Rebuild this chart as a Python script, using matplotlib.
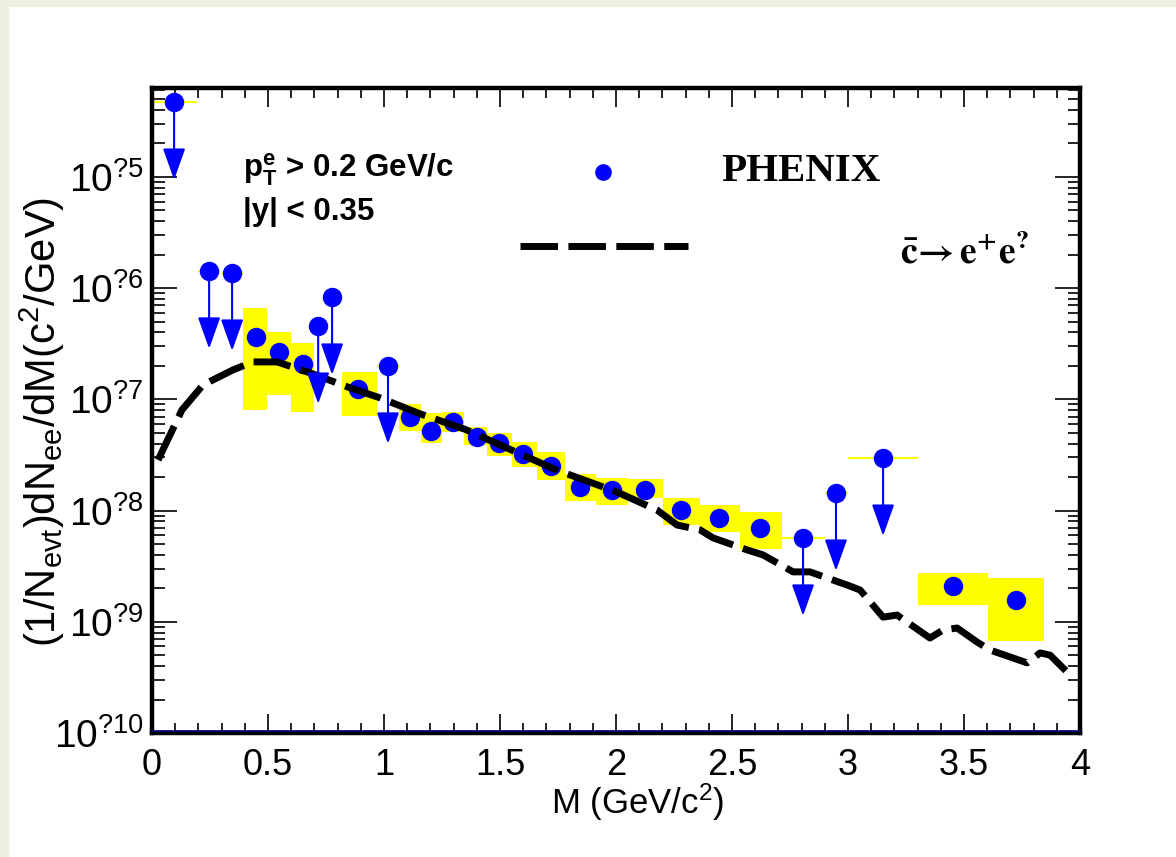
import matplotlib
matplotlib.use('Agg')
import matplotlib.pyplot as plt
from matplotlib.patches import Rectangle, FancyArrowPatch
from matplotlib.ticker import FuncFormatter, LogLocator, MultipleLocator, NullFormatter
import numpy as np

plt.rcParams['font.family'] = ['Liberation Sans', 'DejaVu Sans']
plt.rcParams['mathtext.fontset'] = 'custom'
plt.rcParams['mathtext.rm'] = 'Liberation Sans'
plt.rcParams['mathtext.it'] = 'Liberation Sans:italic'
plt.rcParams['mathtext.bf'] = 'Liberation Sans:bold'

# measured points with systematic boxes
mass = [0.448, 0.547, 0.651, 0.888, 1.112, 1.203, 1.297, 1.401, 1.496, 1.599,
        1.720, 1.845, 1.983, 2.125, 2.280, 2.444, 2.621, 3.453, 3.724]
yield_ee = [3.64e-7, 2.67e-7, 2.08e-7, 1.24e-7, 6.95e-8, 5.20e-8, 6.26e-8, 4.59e-8,
            4.06e-8, 3.23e-8, 2.52e-8, 1.63e-8, 1.53e-8, 1.53e-8, 1.01e-8, 8.57e-9,
            6.98e-9, 2.10e-9, 1.57e-9]
sys_lo = [8.04e-8, 1.10e-7, 7.71e-8, 7.10e-8, 5.20e-8, 4.06e-8, 5.09e-8, 3.89e-8,
          3.10e-8, 2.47e-8, 1.88e-8, 1.22e-8, 1.12e-8, 1.30e-8, 7.43e-9, 6.43e-9,
          4.52e-9, 1.42e-9, 6.71e-10]
sys_hi = [6.64e-7, 4.04e-7, 3.21e-7, 1.76e-7, 9.10e-8, 7.55e-8, 7.71e-8, 5.65e-8,
          4.99e-8, 4.14e-8, 3.37e-8, 2.13e-8, 1.96e-8, 1.92e-8, 1.30e-8, 1.12e-8,
          9.73e-9, 2.75e-9, 2.48e-9]
bin_lo = [0.392, 0.496, 0.599, 0.819, 1.065, 1.160, 1.250, 1.345, 1.444, 1.552,
          1.659, 1.778, 1.914, 2.052, 2.203, 2.362, 2.534, 3.302, 3.603]
bin_hi = [0.496, 0.599, 0.698, 0.970, 1.160, 1.250, 1.345, 1.444, 1.552, 1.659,
          1.778, 1.914, 2.052, 2.203, 2.362, 2.534, 2.716, 3.603, 3.845]

# upper limits
ul_mass = [0.095, 0.246, 0.345, 0.716, 0.776, 1.017, 2.806, 2.948, 3.151]
ul_yield = [4.72e-5, 1.43e-6, 1.37e-6, 4.57e-7, 8.34e-7, 2.00e-7, 5.68e-9, 1.44e-8, 2.97e-8]
ul_lo = [0.000, 0.200, 0.300, 0.698, 0.750, 0.970, 2.716, 2.900, 3.000]
ul_hi = [0.195, 0.290, 0.390, 0.750, 0.800, 1.065, 2.900, 3.000, 3.300]

# charm -> e+e- expectation
curve_m = [0.026, 0.129, 0.220, 0.349, 0.435, 0.539, 0.681, 0.853, 0.983, 1.155,
           1.350, 1.543, 1.759, 1.802, 2.000, 2.177, 2.263, 2.362, 2.418, 2.565,
           2.634, 2.763, 2.836, 2.996, 3.052, 3.151, 3.211, 3.353, 3.409, 3.470,
           3.556, 3.612, 3.772, 3.828, 3.871, 3.948]
curve_y = [2.85e-8, 8.04e-8, 1.35e-7, 1.84e-7, 2.17e-7, 2.17e-7, 1.73e-7, 1.27e-7,
           1.03e-7, 7.41e-8, 5.37e-8, 3.55e-8, 2.24e-8, 2.09e-8, 1.48e-8, 1.01e-8,
           7.41e-9, 6.70e-9, 5.68e-9, 4.43e-9, 3.99e-9, 2.81e-9, 2.81e-9, 2.14e-9,
           1.93e-9, 1.10e-9, 1.15e-9, 7.14e-10, 8.43e-10, 8.79e-10, 6.58e-10,
           5.57e-10, 4.27e-10, 5.25e-10, 5.01e-10, 3.47e-10]

y_ticks = [1e-10, 1e-9, 1e-8, 1e-7, 1e-6, 1e-5]

blue = '#0000ff'
dash = (0, (5.4, 1.5))

fig = plt.figure(figsize=(11.76, 8.57), dpi=100)
fig.patches.append(Rectangle((0, 0), 8 / 1176, 1, transform=fig.transFigure,
                             color='#eef1e2', zorder=0))
fig.patches.append(Rectangle((0, 1 - 6 / 857), 1, 6 / 857, transform=fig.transFigure,
                             color='#eef1e2', zorder=0))
ax = fig.add_axes([0.1293, 0.1447, 0.7891, 0.7526])
ax.set_yscale('log')
ax.set_xlim(0, 4)
ax.set_ylim(1e-10, 6.3e-5)

# systematic boxes
widths = [h - l for l, h in zip(bin_lo, bin_hi)]
heights = [h - l for l, h in zip(sys_lo, sys_hi)]
ax.bar(bin_lo, heights, width=widths, bottom=sys_lo, align='edge',
       color='#ffff00', linewidth=0, zorder=1)
ax.hlines(ul_yield, ul_lo, ul_hi, color='#ffff00', lw=1.5, zorder=1)

ax.plot(mass, yield_ee, 'o', color=blue, ms=14, mec='none', zorder=3)
ax.plot(curve_m, curve_y, color='k', lw=5, linestyle=dash,
        solid_capstyle='butt', dash_capstyle='butt', zorder=4)

# upper limit arrows
for m, y in zip(ul_mass, ul_yield):
    ax.add_patch(FancyArrowPatch((m, y), (m, y * 10 ** -0.70),
                                 arrowstyle='-|>,head_length=1.4,head_width=0.5',
                                 color=blue, lw=1.5, mutation_scale=14,
                                 shrinkA=0, shrinkB=0, zorder=5))
ax.plot(ul_mass, ul_yield, 'o', color=blue, ms=14, mec='none', zorder=6)

# axis styling
for s in ax.spines.values():
    s.set_linewidth(3.2)
ax.xaxis.set_major_locator(MultipleLocator(0.5))
ax.xaxis.set_minor_locator(MultipleLocator(0.1))
ax.set_yticks(y_ticks)
ax.yaxis.set_minor_locator(LogLocator(base=10, subs=np.arange(2, 10), numticks=20))
ax.yaxis.set_minor_formatter(NullFormatter())
ax.xaxis.set_major_formatter(FuncFormatter(lambda v, p: '%g' % v))
ax.yaxis.set_major_formatter(
    FuncFormatter(lambda v, p: r'$\mathregular{10^{?%d}}$' % round(-np.log10(v))))
ax.set_ylim(1e-10, 6.3e-5)
ax.tick_params(axis='both', which='both', direction='in', top=True, right=True,
               width=1.2)
ax.tick_params(axis='x', which='major', length=14, labelsize=26, pad=11)
ax.tick_params(axis='x', which='minor', length=7)
ax.tick_params(axis='y', which='major', length=18, labelsize=28, pad=6)
ax.tick_params(axis='y', which='minor', length=9)
ax.plot([0, 1], [0.003, 0.003], transform=ax.transAxes, color='#000080',
        lw=1.2, zorder=7, clip_on=False)

ax.text(0.523, -0.108, r'M (GeV/c$^{2}$)', transform=ax.transAxes, fontsize=25,
        ha='center', va='center')
ax.text(-0.1185, 0.482,
        r'(1/N$_{\mathregular{evt}}$)dN$_{\mathregular{ee}}$/dM(c$^{2}$/GeV)',
        transform=ax.transAxes, fontsize=30, rotation=90, ha='center', va='center')

# annotations
ax.text(0.098, 0.873, r'$\mathbf{p_{T}^{e}}$ > 0.2 GeV/c', transform=ax.transAxes,
        fontsize=22.5, fontweight='bold', va='center')
ax.text(0.098, 0.808, '|y| < 0.35', transform=ax.transAxes,
        fontsize=22.5, fontweight='bold', va='center')

# legend drawn by hand
ax.plot([0.486], [0.870], 'o', color=blue, ms=12, mec='none',
        transform=ax.transAxes)
ax.text(0.699, 0.870, 'PHENIX', transform=ax.transAxes, fontsize=29.5,
        fontweight='bold', family='Liberation Serif', ha='center', va='center')
ax.plot([0.397, 0.578], [0.755, 0.755], color='k', lw=5, linestyle=dash,
        dash_capstyle='butt', transform=ax.transAxes)
ax.text(0.806, 0.745, r'$\mathbf{\bar{c}\!\rightarrow e^{+}e^{?}}$',
        transform=ax.transAxes, fontsize=27, math_fontfamily='stix',
        ha='left', va='center')

fig.savefig('out.png', dpi=100)
